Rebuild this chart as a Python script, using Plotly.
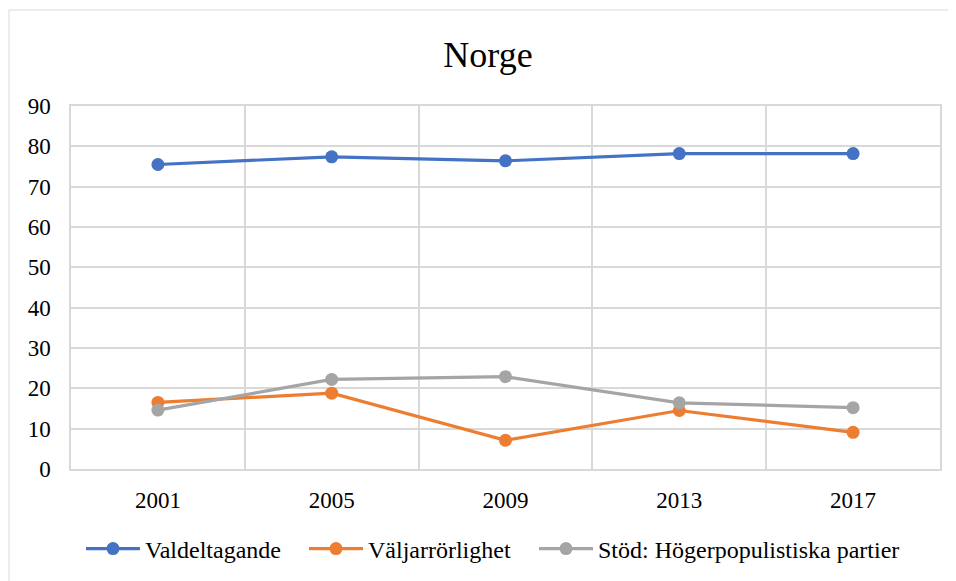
import plotly.graph_objects as go

years = ["2001", "2005", "2009", "2013", "2017"]
valdeltagande = [75.5, 77.4, 76.4, 78.2, 78.2]
valjarrorlighet = [16.5, 18.8, 7.1, 14.5, 9.1]
hogerpopulistiska = [14.6, 22.2, 22.9, 16.4, 15.2]
series_names = ["Valdeltagande", "Väljarrörlighet", "Stöd: Högerpopulistiska partier"]
y_ticks = [0, 10, 20, 30, 40, 50, 60, 70, 80, 90]

colors = ["#4472C4", "#ED7D31", "#A5A5A5"]
FONT = "Times New Roman"

OFF = 8  # default page margin of the html body
W, H = 956 - OFF, 581 - OFF
L, R, T, B = 71 - OFF, 940 - OFF, 106 - OFF, 469 - OFF

legend_ids = ["legend", "legend2", "legend3"]
legend_left = [87, 310, 540]  # page x where each legend symbol starts

fig = go.Figure()
for name, vals, col, lg in zip(series_names, [valdeltagande, valjarrorlighet, hogerpopulistiska], colors, legend_ids):
    fig.add_trace(go.Scatter(
        x=years, y=vals, name=name, mode="lines+markers",
        line=dict(color=col, width=3.2),
        marker=dict(color=col, size=13),
        legend=lg,
    ))

pw, ph = R - L, B - T
fig.add_shape(type="rect", xref="paper", yref="paper",
              x0=(1 - L) / pw, x1=(W + 20 - L) / pw,
              y0=(B - (H + 20)) / ph, y1=(B - 2) / ph,
              line=dict(color="#d9d9d9", width=1), fillcolor="rgba(0,0,0,0)", layer="below")

legend_common = dict(orientation="h", xref="container", xanchor="left",
                     yref="container", y=1 - (549 - OFF) / H, yanchor="middle",
                     font=dict(family=FONT, size=24, color="black"),
                     itemwidth=54, bgcolor="rgba(0,0,0,0)")
legends = {}
for lg, lx in zip(legend_ids, legend_left):
    legends[lg] = dict(legend_common, x=(lx - OFF - 6) / W)

fig.update_layout(
    width=W, height=H,
    margin=dict(l=L, r=W - R, t=T, b=H - B),
    paper_bgcolor="white", plot_bgcolor="white",
    font=dict(family=FONT, size=23, color="black"),
    title=dict(text="Norge", font=dict(family=FONT, size=36, color="black"),
               xref="container", x=(488 - OFF) / W, xanchor="center",
               yref="container", y=1 - (54 - OFF) / H, yanchor="middle"),
    showlegend=True,
    xaxis=dict(type="category", range=[-0.5, 4.5], tickson="boundaries",
               showgrid=True, gridcolor="#d9d9d9", gridwidth=1.5,
               showline=True, linecolor="#d9d9d9", linewidth=1.5, mirror=True,
               ticks="", ticklabelstandoff=10, zeroline=False,
               tickfont=dict(family=FONT, size=23, color="black")),
    yaxis=dict(range=[0, 90], tickvals=y_ticks,
               showgrid=True, gridcolor="#d9d9d9", gridwidth=1.5,
               showline=True, linecolor="#d9d9d9", linewidth=1.5, mirror=True,
               ticks="", ticklabelstandoff=14, zeroline=False,
               tickfont=dict(family=FONT, size=23, color="black")),
    **legends,
)

fig.write_html("out.html")
